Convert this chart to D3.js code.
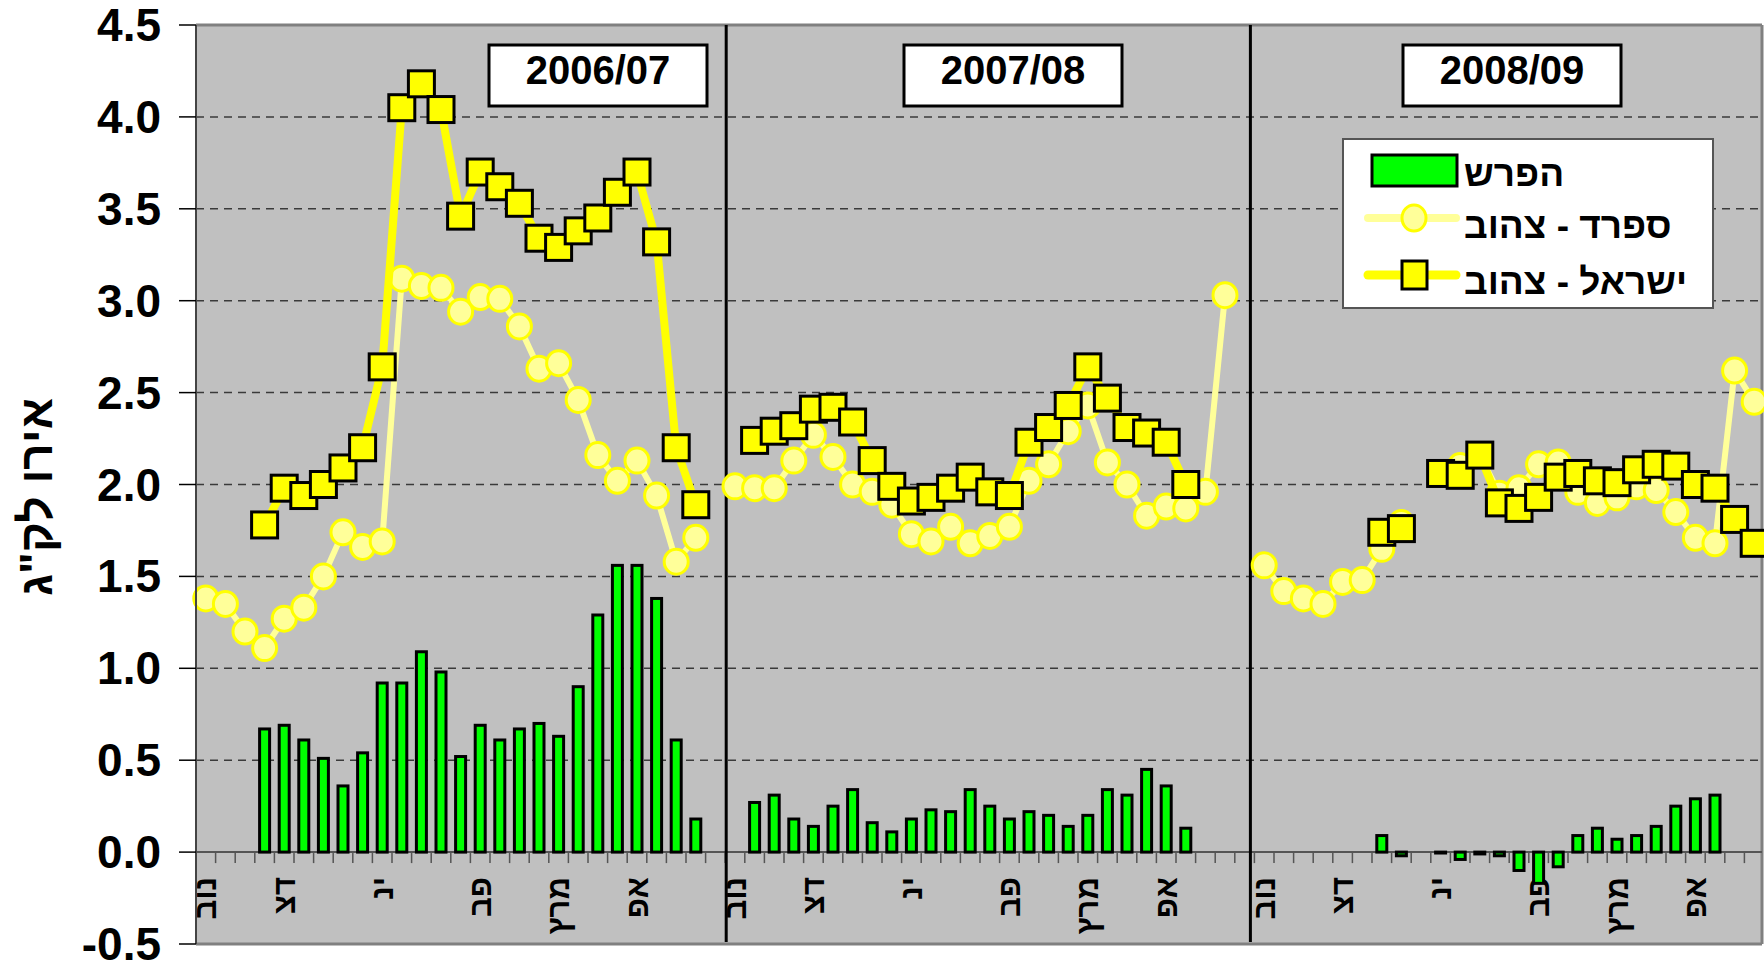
<!DOCTYPE html>
<html>
<head>
<meta charset="utf-8">
<script src="https://cdn.jsdelivr.net/npm/d3@7"></script>
<style>
body { margin: 0; background: #fff; }
svg text { font-family: "Liberation Sans", Arial, sans-serif; font-weight: bold; fill: #000; }
</style>
</head>
<body>
<svg id="chart" width="1764" height="969"></svg>
<script>
// seasons shown side by side, weekly points
var seasons = ["2006/07", "2007/08", "2008/09"];
var weeksPerSeason = [27, 27, 26];
var monthLabels = ["נוב", "דצ", "ינ", "פב", "מרץ", "אפ"];
var monthWeeks = [0, 4, 9, 14, 18, 22];
var yTicks = [-0.5, 0, 0.5, 1, 1.5, 2, 2.5, 3, 3.5, 4, 4.5];
var legendLabels = ["הפרש", "ספרד - צהוב", "ישראל - צהוב"];
var yTitle = 'אירו לק"ג';

// Spain - yellow (euro/kg)
var spain0607 = [1.38, 1.35, 1.20, 1.11, 1.27, 1.33, 1.50, 1.74, 1.66, 1.69, 3.12, 3.08, 3.07, 2.94, 3.02, 3.01, 2.86, 2.63, 2.66, 2.46, 2.16, 2.02, 2.13, 1.94, 1.58, 1.71, null];
var spain0708 = [1.99, 1.98, 1.98, 2.13, 2.27, 2.15, 2.00, 1.96, 1.89, 1.73, 1.69, 1.77, 1.68, 1.72, 1.77, 2.02, 2.11, 2.29, 2.43, 2.12, 2.00, 1.83, 1.88, 1.87, 1.96, 3.03, null];
var spain0809 = [1.56, 1.42, 1.38, 1.35, 1.47, 1.48, 1.65, 1.79, null, 2.06, 2.10, 2.16, 1.95, 1.98, 2.11, 2.12, 1.96, 1.90, 1.93, 1.99, 1.97, 1.85, 1.71, 1.68, 2.62, 2.45];

// Israel - yellow
var israel0607 = [null, null, null, 1.78, 1.98, 1.94, 2.00, 2.09, 2.20, 2.64, 4.05, 4.18, 4.04, 3.46, 3.70, 3.62, 3.53, 3.34, 3.29, 3.38, 3.45, 3.59, 3.70, 3.32, 2.20, 1.89, null];
var israel0708 = [null, 2.24, 2.29, 2.32, 2.41, 2.42, 2.34, 2.13, 1.99, 1.91, 1.93, 1.98, 2.04, 1.96, 1.94, 2.23, 2.31, 2.43, 2.64, 2.47, 2.31, 2.28, 2.23, 2.00, null, null, null];
var israel0809 = [null, null, null, null, null, null, 1.74, 1.76, null, 2.06, 2.05, 2.16, 1.90, 1.87, 1.93, 2.04, 2.06, 2.02, 2.01, 2.08, 2.11, 2.10, 2.00, 1.98, 1.81, 1.68];

// difference (bars)
var diff0607 = [null, null, null, 0.67, 0.69, 0.61, 0.51, 0.36, 0.54, 0.92, 0.92, 1.09, 0.98, 0.52, 0.69, 0.61, 0.67, 0.70, 0.63, 0.90, 1.29, 1.56, 1.56, 1.38, 0.61, 0.18, null];
var diff0708 = [null, 0.27, 0.31, 0.18, 0.14, 0.25, 0.34, 0.16, 0.11, 0.18, 0.23, 0.22, 0.34, 0.25, 0.18, 0.22, 0.20, 0.14, 0.20, 0.34, 0.31, 0.45, 0.36, 0.13, null, null, null];
var diff0809 = [null, null, null, null, null, null, 0.09, -0.02, null, -0.005, -0.04, -0.01, -0.02, -0.10, -0.17, -0.08, 0.09, 0.13, 0.07, 0.09, 0.14, 0.25, 0.29, 0.31, null, null];

var spainData = [spain0607, spain0708, spain0809];
var israelData = [israel0607, israel0708, israel0809];
var diffData = [diff0607, diff0708, diff0809];

// layout
var plotL = 196, plotR = 1762, plotT = 25, plotB = 944;
var titleBoxX = [598, 1013, 1512];
var dividerShift = [0, 1, -4];

var cats = [];
seasons.forEach(function(s, si){
	d3.range(weeksPerSeason[si]).forEach(function(w){ cats.push(s + "|" + w); });
});

var svg = d3.select("#chart");
var x = d3.scaleBand().domain(cats).range([plotL, 1764]);
var y = d3.scaleLinear().domain([-0.5, 4.5]).range([plotB, plotT]);
var step = x.step();
var cx = function(si, w){ return x(seasons[si] + "|" + w) + step / 2; };

// plot area
svg.append("rect").attr("x", plotL).attr("y", plotT).attr("width", plotR - plotL).attr("height", plotB - plotT).attr("fill", "#c0c0c0");

// gridlines
svg.append("g").selectAll("line").data(yTicks.filter(function(v){ return v > 0 && v < 4.5; }))
	.enter().append("line")
	.attr("x1", plotL).attr("x2", plotR)
	.attr("y1", function(d){ return y(d); }).attr("y2", function(d){ return y(d); })
	.attr("stroke", "#3a3a3a").attr("stroke-width", 1.5).attr("stroke-dasharray", "8,6");

// borders
svg.append("line").attr("x1", plotL).attr("x2", plotR).attr("y1", plotT).attr("y2", plotT).attr("stroke", "#808080").attr("stroke-width", 3);
svg.append("line").attr("x1", plotL).attr("x2", plotR).attr("y1", plotB).attr("y2", plotB).attr("stroke", "#808080").attr("stroke-width", 3);
svg.append("line").attr("x1", plotR).attr("x2", plotR).attr("y1", plotT).attr("y2", plotB).attr("stroke", "#808080").attr("stroke-width", 3);

// zero line + category ticks
var y0 = y(0);
svg.append("line").attr("x1", plotL).attr("x2", plotR).attr("y1", y0).attr("y2", y0).attr("stroke", "#555").attr("stroke-width", 2);
svg.append("g").selectAll("line").data(d3.range(cats.length))
	.enter().append("line")
	.attr("x1", function(i){ return x(cats[i]); }).attr("x2", function(i){ return x(cats[i]); })
	.attr("y1", y0).attr("y2", y0 + 11)
	.attr("stroke", "#555").attr("stroke-width", 1.5);

// month labels
seasons.forEach(function(s, si){
	monthLabels.forEach(function(m, mi){
		svg.append("text")
			.attr("transform", "translate(" + cx(si, monthWeeks[mi]) + ",877) rotate(-90)")
			.attr("text-anchor", "end")
			.attr("dominant-baseline", "central")
			.style("font-size", "31px")
			.text(m);
	});
});

// season dividers
[1, 2].forEach(function(si){
	var xd = x(seasons[si] + "|0") + dividerShift[si];
	svg.append("line").attr("x1", xd).attr("x2", xd).attr("y1", plotT).attr("y2", plotB - 2)
		.attr("stroke", "#000").attr("stroke-width", 3);
});

// bars
seasons.forEach(function(s, si){
	var bars = diffData[si].map(function(v, w){ return {w: w, v: v}; }).filter(function(d){ return d.v != null; });
	svg.append("g").selectAll("rect").data(bars).enter().append("rect")
		.attr("x", function(d){ return cx(si, d.w) - 5; })
		.attr("width", 10)
		.attr("y", function(d){ return Math.min(y(d.v), y0); })
		.attr("height", function(d){ return Math.abs(y(d.v) - y0); })
		.attr("fill", "#00ff00").attr("stroke", "#000").attr("stroke-width", 3);
});

// lines
var line = d3.line()
	.defined(function(d){ return d.v != null; })
	.x(function(d){ return d.x; })
	.y(function(d){ return y(d.v); });

seasons.forEach(function(s, si){
	var sp = spainData[si].map(function(v, w){ return {x: cx(si, w), v: v}; });
	svg.append("path").datum(sp).attr("d", line).attr("fill", "none")
		.attr("stroke", "#ffff99").attr("stroke-width", 6).attr("stroke-linejoin", "round");
	svg.append("g").selectAll("ellipse").data(sp.filter(function(d){ return d.v != null; }))
		.enter().append("ellipse")
		.attr("cx", function(d){ return d.x; }).attr("cy", function(d){ return y(d.v); })
		.attr("rx", 12).attr("ry", 12.5)
		.attr("fill", "#ffff99").attr("stroke", "#ffff00").attr("stroke-width", 3);
});

seasons.forEach(function(s, si){
	var il = israelData[si].map(function(v, w){ return {x: cx(si, w), v: v}; });
	svg.append("path").datum(il).attr("d", line).attr("fill", "none")
		.attr("stroke", "#ffff00").attr("stroke-width", 8).attr("stroke-linejoin", "round");
	svg.append("g").selectAll("rect").data(il.filter(function(d){ return d.v != null; }))
		.enter().append("rect")
		.attr("x", function(d){ return d.x - 13; }).attr("y", function(d){ return y(d.v) - 13; })
		.attr("width", 26).attr("height", 26)
		.attr("fill", "#ffff00").attr("stroke", "#000").attr("stroke-width", 3);
});

// y axis
svg.append("line").attr("x1", plotL).attr("x2", plotL).attr("y1", plotT).attr("y2", plotB).attr("stroke", "#444").attr("stroke-width", 2);
var yt = svg.append("g").selectAll("g").data(yTicks).enter().append("g");
yt.append("line").attr("x1", 179).attr("x2", plotL).attr("y1", function(d){ return y(d); }).attr("y2", function(d){ return y(d); })
	.attr("stroke", "#000").attr("stroke-width", 1.5);
yt.append("text").attr("x", 161).attr("y", function(d){ return y(d); })
	.attr("text-anchor", "end").attr("dominant-baseline", "central")
	.style("font-size", "46px")
	.text(function(d){ return d.toFixed(1); });

svg.append("text")
	.attr("transform", "translate(36,497) rotate(-90)")
	.attr("text-anchor", "middle").attr("dominant-baseline", "central")
	.style("font-size", "46px")
	.text(yTitle);

// season title boxes
seasons.forEach(function(s, si){
	svg.append("rect").attr("x", titleBoxX[si] - 109).attr("y", 45).attr("width", 218).attr("height", 61)
		.attr("fill", "#fff").attr("stroke", "#000").attr("stroke-width", 3);
	svg.append("text").attr("x", titleBoxX[si]).attr("y", 84)
		.attr("text-anchor", "middle").style("font-size", "40px").text(s);
});

// legend
var lg = svg.append("g");
lg.append("rect").attr("x", 1343).attr("y", 139).attr("width", 370).attr("height", 169)
	.attr("fill", "#fff").attr("stroke", "#555").attr("stroke-width", 2);
lg.append("rect").attr("x", 1372).attr("y", 155).attr("width", 85).attr("height", 31)
	.attr("fill", "#00ff00").attr("stroke", "#000").attr("stroke-width", 3);
lg.append("line").attr("x1", 1368).attr("x2", 1456).attr("y1", 218).attr("y2", 218)
	.attr("stroke", "#ffff99").attr("stroke-width", 8).attr("stroke-linecap", "round");
lg.append("ellipse").attr("cx", 1414).attr("cy", 218).attr("rx", 12).attr("ry", 13)
	.attr("fill", "#ffff99").attr("stroke", "#ffff00").attr("stroke-width", 3);
lg.append("line").attr("x1", 1368).attr("x2", 1456).attr("y1", 275).attr("y2", 275)
	.attr("stroke", "#ffff00").attr("stroke-width", 9).attr("stroke-linecap", "round");
lg.append("rect").attr("x", 1402).attr("y", 261).attr("width", 25).attr("height", 28)
	.attr("fill", "#ffff00").attr("stroke", "#000").attr("stroke-width", 3);
lg.selectAll("text").data(legendLabels).enter().append("text")
	.attr("x", 1464).attr("y", function(d, i){ return [186, 238, 294][i]; })
	.style("font-size", "37px")
	.text(function(d){ return d; });
</script>
</body>
</html>
